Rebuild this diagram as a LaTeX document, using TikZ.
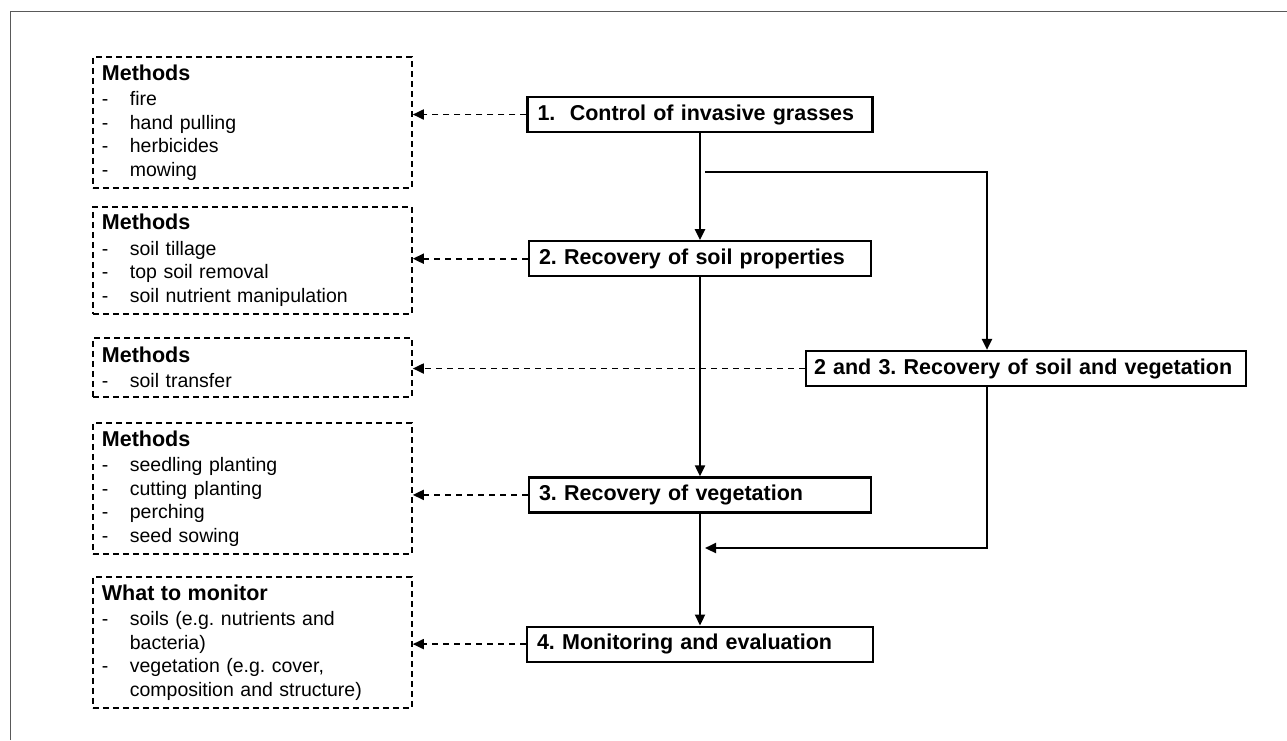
\documentclass[tikz,border=0pt]{standalone}
\usepackage{fontspec}
\setmainfont{Liberation Sans}
\frenchspacing
\usetikzlibrary{positioning,arrows.meta}
\newcommand{\litem}[1]{\makebox[28pt][l]{-}#1}
\newcommand{\boxtitle}[1]{{\fontsize{21.5}{24}\selectfont\bfseries #1}}
\tikzset{
>={Triangle[length=11pt,width=10pt]},
  stepbox/.style={
    rectangle,
    draw=black, line width=2.2pt,
    minimum height=35pt,
    inner xsep=10pt,
    align=left,
    font=\fontsize{21.5}{24}\selectfont\bfseries},
  methodbox/.style={
    rectangle,
    draw=black, line width=1.8pt,
    dash pattern=on 6pt off 4pt,
    text width=301pt,
    inner xsep=9pt,
    align=left,
    anchor=north west,
    font=\fontsize{19.5}{23.5}\selectfont},
  line/.style={line width=2.2pt, ->},
  dline/.style={line width=1.8pt, dash pattern=on 6pt off 5pt, ->},
}
\begin{document}
\begin{tikzpicture}
[x=1pt, y=-1pt, node distance=107pt]
    \useasboundingbox (0,0) rectangle (1287,740);
    \draw[gray!70!black, line width=1pt] (10,740) |- (1287,11);

    % steps
    \node [stepbox, text width=325pt] (control) at (700,114.5) {1.\ \ Control of invasive grasses};
    \node [stepbox, text width=322pt, below=of control] (soilprop) {2. Recovery of soil properties};
    \node [stepbox, text width=322pt, below=199pt of soilprop] (veget) {3. Recovery of vegetation};
    \node [stepbox, text width=326pt, below=112pt of veget] (monitor) {4. Monitoring and evaluation};
    \node [stepbox, text width=424pt, inner xsep=8pt] (soilveg) at (1026,368.5) {2 and 3. Recovery of soil and vegetation};

    % methods
    \node [methodbox, minimum height=131pt] (ctrlmeth) at (92,56)
        {\boxtitle{Methods}\\[2pt] \litem{fire}\\ \litem{hand pulling}\\ \litem{herbicides}\\ \litem{mowing}};
    \node [methodbox, minimum height=107pt] (soilmeth) at (92,206)
        {\boxtitle{Methods}\\[2pt] \litem{soil tillage}\\ \litem{top soil removal}\\ \litem{soil nutrient manipulation}};
    \node [methodbox, minimum height=59pt] (transmeth) at (92,337)
        {\boxtitle{Methods}\\[2pt] \litem{soil transfer}};
    \node [methodbox, minimum height=131pt] (vegmeth) at (92,422)
        {\boxtitle{Methods}\\[2pt] \litem{seedling planting}\\ \litem{cutting planting}\\ \litem{perching}\\ \litem{seed sowing}};
    \node [methodbox, minimum height=131pt] (monwhat) at (92,576)
        {\boxtitle{What to monitor}\\[2pt] \litem{soils (e.g. nutrients and}\\ \hspace*{28pt}bacteria)\\
         \litem{vegetation (e.g. cover,}\\ \hspace*{28pt}composition and structure)};

    \coordinate (split) at (705,172);
    \coordinate (rbranch) at (987,172);
    \coordinate (merge) at (705,548);

    \draw[line] (control) -- (soilprop);
    \draw[line] (soilprop) -- (veget);
    \draw[line] (veget) -- (monitor);
    \draw[line] (split) -- (rbranch) -- (rbranch |- soilveg.north);
    \draw[line] (rbranch |- soilveg.south) |- (merge);

    \draw[dline] (control.west) -- (control.west -| ctrlmeth.east);
    \draw[dline] (soilprop.west) -- (soilprop.west -| soilmeth.east);
    \draw[dline] (soilveg.west) -- (soilveg.west -| transmeth.east);
    \draw[dline] (veget.west) -- (veget.west -| vegmeth.east);
    \draw[dline] (monitor.west) -- (monitor.west -| monwhat.east);

\end{tikzpicture}
\end{document}
